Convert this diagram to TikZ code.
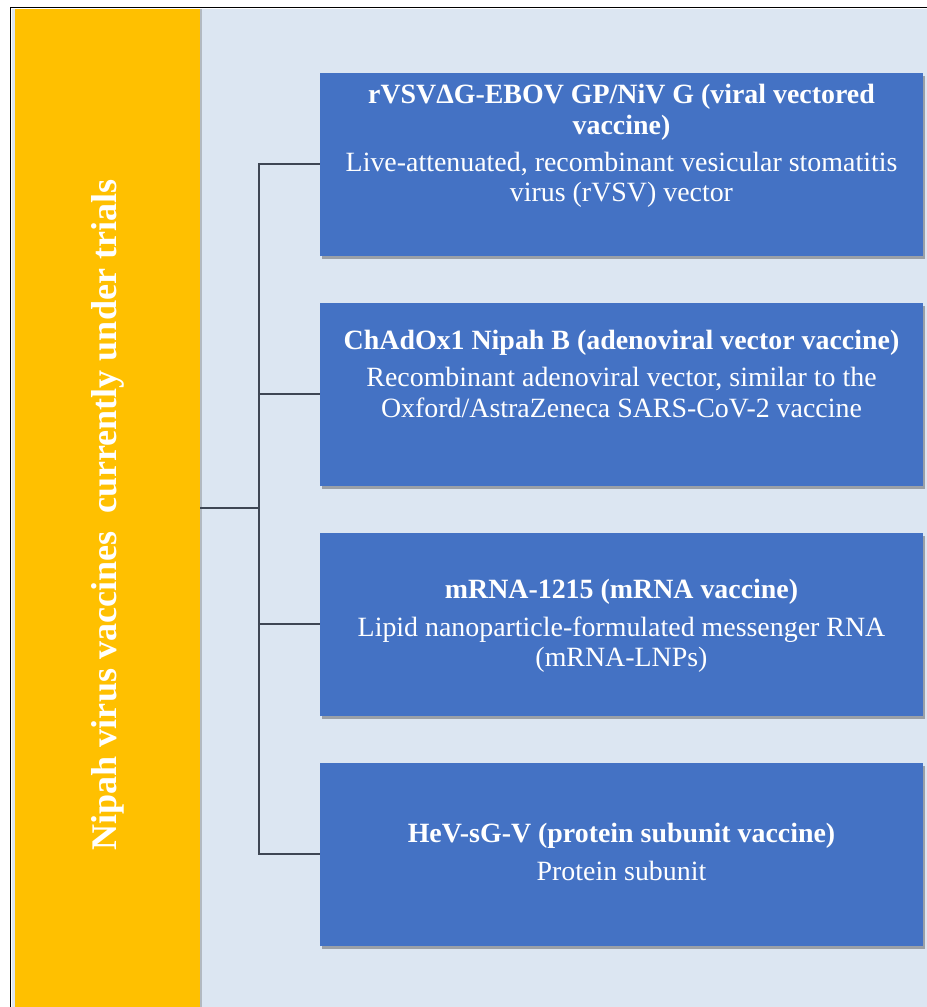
\documentclass[tikz,border=0pt]{standalone}
\usepackage{fontspec}
\setmainfont{Liberation Serif}
\usetikzlibrary{shadows}

\definecolor{panelorange}{HTML}{FFC000}
\definecolor{paleblue}{HTML}{DCE6F2}
\definecolor{boxblue}{HTML}{4472C4}
\definecolor{linegray}{HTML}{3E4654}

\tikzset{
  vbox/.style={fill=boxblue, minimum width=603bp, minimum height=183bp, inner sep=0pt,
    drop shadow={shadow xshift=2bp, shadow yshift=-3bp, opacity=0.45, fill=black!70}},
  vtext/.style={text=white, align=center, inner sep=0pt,
    font=\fontsize{28}{30.5}\selectfont},
  link/.style={draw=linegray, line width=1.6bp},
}

\begin{document}
\begin{tikzpicture}[x=1bp,y=-1bp]
    \useasboundingbox (0,0) rectangle (927,1007);

    % background and frame
    \fill[paleblue] (12,9) rectangle (927,1007);
    \draw[black, line width=1.4bp] (10.5,1007) -- (10.5,7.5) -- (927,7.5);

    % side panel
    \node[fill=panelorange, minimum width=998bp, minimum height=185bp, inner sep=0pt,
          rotate=90, text=white, font=\fontsize{36.2}{40}\selectfont\bfseries,
          drop shadow={shadow xshift=1.5bp, shadow yshift=0bp, opacity=0.35, fill=black!60}]
        (side) at (107.5,508) {Nipah virus vaccines \ currently under trials\kern14bp};

    % vaccine boxes
    \node[vbox] (b1) at (621.5,164) {};
    \node[vbox] (b2) at (621.5,394) {};
    \node[vbox] (b3) at (621.5,624) {};
    \node[vbox] (b4) at (621.5,854) {};

    \node[vtext] (t1) at (621.5,146) {\textbf{rVSVΔG-EBOV GP/NiV G (viral vectored}\\
        \textbf{vaccine)}\\[7bp]
        Live-attenuated, recombinant vesicular stomatitis\\
        virus (rVSV) vector};
    \node[vtext] (t2) at (621.5,374) {\textbf{ChAdOx1 Nipah B (adenoviral vector vaccine)}\\[7bp]
        Recombinant adenoviral vector, similar to the\\
        Oxford/AstraZeneca SARS-CoV-2 vaccine};
    \node[vtext] (t3) at (621.5,626) {\textbf{mRNA-1215 (mRNA vaccine)}\\[7bp]
        Lipid nanoparticle-formulated messenger RNA\\
        (mRNA-LNPs)};
    \node[vtext] (t4) at (621.5,852) {\textbf{HeV-sG-V (protein subunit vaccine)}\\[7bp]
        Protein subunit};

    % connectors
    \coordinate (fork) at (259,509);
    \draw[link] (side.south) -- (side.south -| fork);
    \draw[link] (b1.west) -| (fork) |- (b4.west);
    \foreach \b in {b2,b3}
        \draw[link] (\b.west) -- (\b.west -| fork);
\end{tikzpicture}
\end{document}
